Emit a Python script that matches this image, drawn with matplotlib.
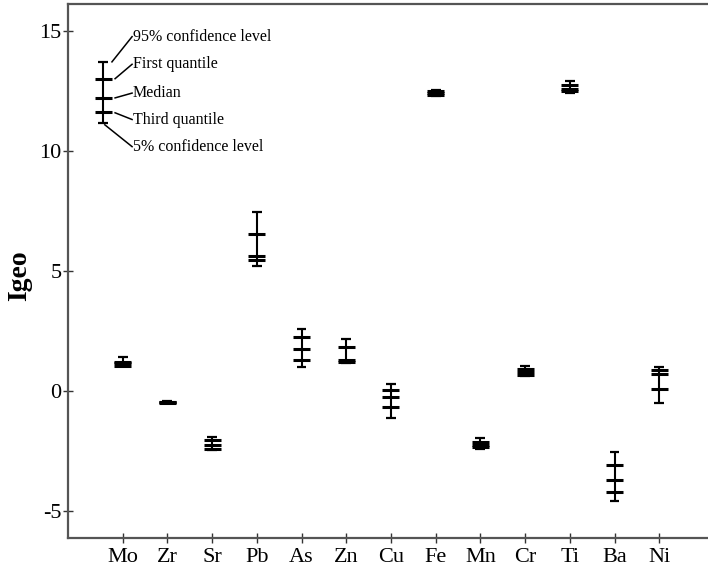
import matplotlib
matplotlib.use("Agg")
import matplotlib.pyplot as plt

plt.rcParams['font.family'] = ['Liberation Serif', 'DejaVu Serif']

elements = ["Mo", "Zr", "Sr", "Pb", "As", "Zn", "Cu", "Fe", "Mn", "Cr", "Ti", "Ba", "Ni"]
p95 = [1.42, -0.42, -1.90, 7.43, 2.57, 2.18, 0.28, 12.52, -1.97, 1.02, 12.90, -2.53, 0.99]
q1 = [1.22, -0.45, -2.04, 6.53, 2.24, 1.81, 0.04, 12.47, -2.12, 0.90, 12.72, -3.08, 0.85]
median = [1.15, -0.47, -2.25, 5.60, 1.74, 1.30, -0.24, 12.40, -2.25, 0.80, 12.58, -3.71, 0.70]
q3 = [1.05, -0.50, -2.40, 5.43, 1.29, 1.20, -0.69, 12.33, -2.35, 0.66, 12.47, -4.20, 0.07]
p5 = [1.02, -0.52, -2.48, 5.22, 0.99, 1.18, -1.14, 12.28, -2.40, 0.60, 12.42, -4.60, -0.49]

# schematic key in the top-left corner
key_values = [13.7, 13.0, 12.2, 11.6, 11.15]
key_labels = ["95% confidence level", "First quantile", "Median", "Third quantile", "5% confidence level"]
key_text_y = [14.75, 13.6, 12.4, 11.3, 10.17]
key_line_start = [(-0.24, 13.7), (-0.17, 13.0), (-0.17, 12.2), (-0.17, 11.58), (-0.40, 11.08)]

fig = plt.figure(figsize=(7.08, 5.73), dpi=100)
ax = fig.add_axes([0.0956, 0.0611, 0.9044, 0.9311])


def draw_box(x, top, a, m, b, bottom):
    ax.vlines(x, bottom, top, color="black", lw=1.5)
    ax.hlines([top, bottom], x - 0.11, x + 0.11, color="black", lw=1.6)
    ax.hlines([a, m, b], x - 0.19, x + 0.19, color="black", lw=2.2)


xs = list(range(len(elements)))
for i in xs:
    draw_box(i, p95[i], q1[i], median[i], q3[i], p5[i])

kx = -0.44
draw_box(kx, *key_values)
for (sx, sy), ty, lab in zip(key_line_start, key_text_y, key_labels):
    ax.plot([sx, 0.21], [sy, ty], color="black", lw=1.1)
    ax.text(0.23, ty, lab, fontsize=11.5, va="center", ha="left")

ax.set_xlim(-1.23, 13.09)
ax.set_ylim(-6.125, 16.09)
ax.set_xticks(xs)
ax.set_xticklabels(elements)
ax.set_yticks([-5, 0, 5, 10, 15])
ax.set_yticklabels(["-5", "0", "5", "10", "15"])
ax.tick_params(axis="both", direction="inout", length=7, width=1.0, labelsize=16, color="#333333")
ax.tick_params(axis="x", pad=4)
ax.tick_params(axis="y", pad=1)
ax.spines["right"].set_visible(False)
for s in ["left", "top", "bottom"]:
    ax.spines[s].set_color("#555555")
    ax.spines[s].set_linewidth(1.6)

fig.text(0.028, 1 - 276 / 573, "Igeo", rotation=90, fontsize=20, fontweight="bold",
         va="center", ha="center")

fig.savefig("out.png", dpi=100)
